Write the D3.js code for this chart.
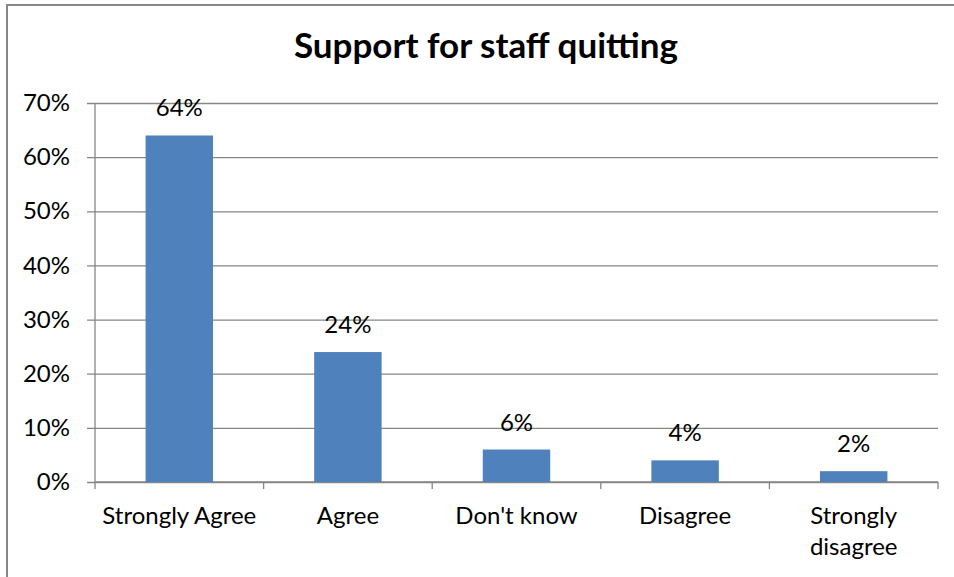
<!DOCTYPE html>
<html>
<head>
<meta charset="utf-8">
<script src="https://cdn.jsdelivr.net/npm/d3@7"></script>
<style>
  html, body { margin: 0; padding: 0; background: #fff; }
  svg { display: block; font-family: Lato, "Open Sans", sans-serif; }
</style>
</head>
<body>
<svg id="chart" width="954" height="577"></svg>
<script>
// Survey answers and their shares (percent)
const categories = ["Strongly Agree", "Agree", "Don't know", "Disagree", "Strongly disagree"];
const values = [64, 24, 6, 4, 2];
const yTicks = [0, 10, 20, 30, 40, 50, 60, 70];
const title = "Support for staff quitting";

const svg = d3.select("#chart");
const W = 954, H = 577;
const plot = { left: 95, right: 938, top: 103, bottom: 482 };
const labelSize = 24;

// Outer chart frame
svg.append("rect")
  .attr("x", 7).attr("y", 5)
  .attr("width", W + 10).attr("height", H + 10)
  .attr("fill", "#fff")
  .attr("stroke", "#868686").attr("stroke-width", 2);

// Title
svg.append("text")
  .attr("x", 486).attr("y", 58)
  .attr("text-anchor", "middle")
  .attr("font-size", 35).attr("font-weight", "bold")
  .attr("fill", "#000")
  .text(title);

const x = d3.scaleBand().domain(categories).range([plot.left, plot.right]).paddingInner(0.6).paddingOuter(0.3);
const xEdges = d3.scaleLinear().domain([0, categories.length]).range([plot.left, plot.right]);
const y = d3.scaleLinear().domain([0, 70]).range([plot.bottom, plot.top]);

// Horizontal gridlines with left tick marks
const yAxis = d3.axisLeft(y).tickValues(yTicks).tickFormat(d => d + "%")
  .tickSize(-(plot.right - plot.left)).tickSizeOuter(0).tickPadding(25);
const gy = svg.append("g").attr("transform", `translate(${plot.left},0)`).call(yAxis);
gy.select(".domain").remove();
gy.selectAll(".tick line").attr("x1", -8).attr("stroke", "#868686").attr("stroke-width", 1.3);
gy.selectAll(".tick text").attr("font-size", labelSize).attr("fill", "#000")
  .attr("font-family", "Lato, sans-serif");

// Vertical value axis line
svg.append("line")
  .attr("x1", plot.left).attr("x2", plot.left)
  .attr("y1", plot.top).attr("y2", plot.bottom)
  .attr("stroke", "#868686").attr("stroke-width", 1.3);

// Category axis line with boundary ticks
svg.append("line")
  .attr("x1", plot.left).attr("x2", plot.right)
  .attr("y1", plot.bottom).attr("y2", plot.bottom)
  .attr("stroke", "#868686").attr("stroke-width", 1.3);
svg.append("g").selectAll("line")
  .data(d3.range(categories.length + 1))
  .join("line")
  .attr("x1", d => xEdges(d)).attr("x2", d => xEdges(d))
  .attr("y1", plot.bottom).attr("y2", plot.bottom + 7)
  .attr("stroke", "#868686").attr("stroke-width", 1.3);

// Bars
svg.append("g").selectAll("rect")
  .data(values)
  .join("rect")
  .attr("x", (d, i) => x(categories[i]))
  .attr("width", x.bandwidth())
  .attr("y", d => y(d))
  .attr("height", d => y(0) - y(d))
  .attr("fill", "#4F81BD");

// Value labels
svg.append("g").selectAll("text")
  .data(values)
  .join("text")
  .attr("x", (d, i) => x(categories[i]) + x.bandwidth() / 2)
  .attr("y", d => y(d) - 19)
  .attr("text-anchor", "middle")
  .attr("font-size", labelSize).attr("fill", "#000")
  .text(d => d + "%");

// Category labels (last one wraps onto two lines)
const catLines = c => c === "Strongly disagree" ? ["Strongly", "disagree"] : [c];
const gx = svg.append("g");
categories.forEach((c, i) => {
  const cx = (xEdges(i) + xEdges(i + 1)) / 2;
  const t = gx.append("text")
    .attr("x", cx).attr("y", 524)
    .attr("text-anchor", "middle")
    .attr("font-size", labelSize).attr("fill", "#000");
  catLines(c).forEach((line, k) => {
    t.append("tspan").attr("x", cx).attr("dy", k === 0 ? 0 : 31).text(line);
  });
});
</script>
</body>
</html>
